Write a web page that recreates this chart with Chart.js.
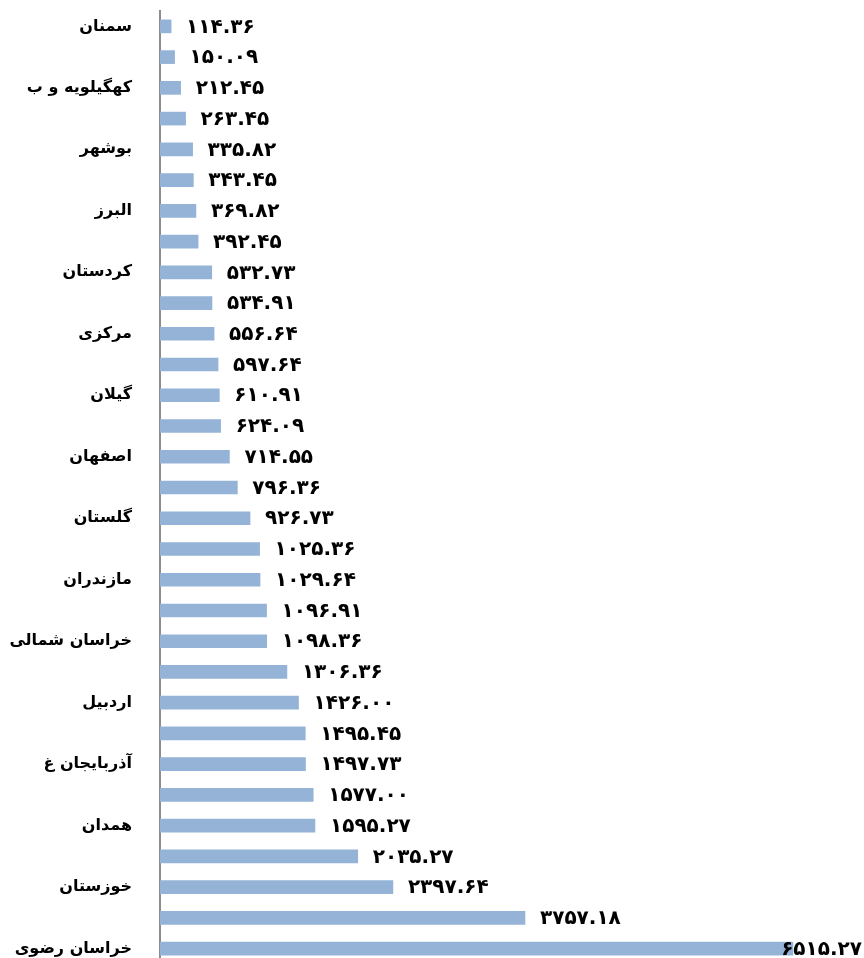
<!DOCTYPE html>
<html>
<head>
<meta charset="utf-8">
<script src="https://cdn.jsdelivr.net/npm/chart.js@4"></script>
<style>
  html, body { margin: 0; padding: 0; background: #fff; overflow: hidden; }
  canvas { display: block; }
</style>
</head>
<body>
<canvas id="myChart" width="864" height="964"></canvas>
<script>
// provinces (only every other name is shown in the picture)
const provinces = [
    "سمنان", "", "کهگیلویه و ب", "", "بوشهر", "", "البرز", "", "کردستان", "",
    "مرکزی", "", "گیلان", "", "اصفهان", "", "گلستان", "", "مازندران", "",
    "خراسان شمالی", "", "اردبیل", "", "آذربایجان غ", "", "همدان", "", "خوزستان", "",
    "خراسان رضوی"
];

const values = [
    114.36, 150.09, 212.45, 263.45, 335.82, 343.45, 369.82, 392.45, 532.73, 534.91,
    556.64, 597.64, 610.91, 624.09, 714.55, 796.36, 926.73, 1025.36, 1029.64, 1096.91,
    1098.36, 1306.36, 1426.00, 1495.45, 1497.73, 1577.00, 1595.27, 2035.27, 2397.64, 3757.18,
    6515.27
];

const persianDigits = ["۰", "۱", "۲", "۳", "۴", "۵", "۶", "۷", "۸", "۹"];

function toPersian(num) {
    return num.toFixed(2).replace(/[0-9]/g, d => persianDigits[d]);
}

// draws the value next to the end of each bar
const valueLabels = {
    id: 'valueLabels',
    afterDatasetsDraw(chart) {
        const ctx = chart.ctx;
        const meta = chart.getDatasetMeta(0);
        ctx.save();
        ctx.font = 'bold 20px "DejaVu Sans"';
        ctx.letterSpacing = '3px';
        ctx.fillStyle = '#000';
        ctx.textBaseline = 'middle';
        ctx.textAlign = 'left';
        meta.data.forEach((bar, i) => {
            const text = toPersian(values[i]);
            const w = ctx.measureText(text).width;
            let x = bar.x + 15;
            if (x + w > chart.width - 2) {
                x = chart.width - 2 - w;
            }
            ctx.fillText(text, x, bar.y + 1);
        });
        ctx.restore();
    }
};

const ctx = document.getElementById('myChart').getContext('2d');

const myChart = new Chart(ctx, {
    type: 'bar',
    data: {
        labels: provinces,
        datasets: [{
            data: values,
            backgroundColor: '#95b3d7',
            borderWidth: 0,
            barThickness: 13
        }]
    },
    options: {
        indexAxis: 'y',
        responsive: false,
        animation: false,
        layout: {
            padding: { top: 11, right: 24, bottom: 0, left: 0 }
        },
        plugins: {
            legend: { display: false },
            tooltip: { enabled: false }
        },
        scales: {
            x: {
                display: false,
                min: 0,
                max: 7000
            },
            y: {
                grid: { display: false, drawTicks: false },
                border: { display: true, color: '#8c8c8c', width: 2 },
                afterFit(scale) {
                    scale.width = 160;
                    // no extra room above/below for the tick labels
                    scale.paddingTop = 0;
                    scale.paddingBottom = 0;
                },
                ticks: {
                    autoSkip: false,
                    padding: 28,
                    color: '#000',
                    font: { family: 'DejaVu Sans', size: 16, weight: 'bold' }
                }
            }
        }
    },
    plugins: [valueLabels]
});
</script>
</body>
</html>
